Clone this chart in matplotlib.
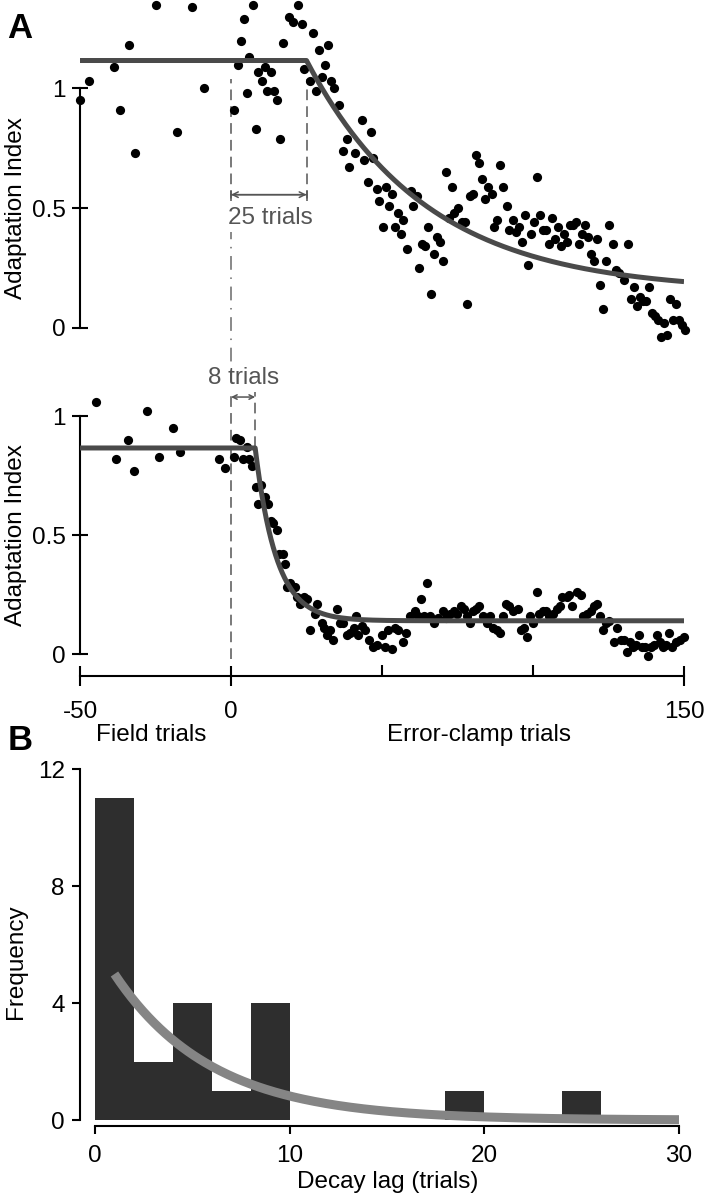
import numpy as np
import matplotlib
matplotlib.use('Agg')
import matplotlib.pyplot as plt
from matplotlib.ticker import FixedLocator

# ---- data ----
# panel A, upper subject: trial number and adaptation index
top_trial = [-50, -47, -38.7, -36.8, -33.8, -31.8, -24.8, -17.9, -12.9, -8.9,
             1, 2.3, 3.3, 4.3, 5.3, 6, 7.3, 8.3, 8.9, 10.3, 11.3, 11.9, 13.2, 14.2, 15.2,
             16.2, 17.2, 19.2, 20.5, 22.2, 23.5, 24.2, 26.2, 27.2, 28.1, 29.1, 30.1, 31.1,
             32.1, 33.1, 34.1, 35.8, 37.1, 38.4, 39.1, 41.1, 43.4, 44.0, 45.4, 46.4, 47.0,
             48.3, 49.0, 50.3, 51.3, 52.3, 53.3, 54.3, 55.3, 56.3, 57.0, 58.3, 59.6, 60.3,
             61.6, 62.3, 63.2, 64.2, 65.2, 66.2, 67.2, 68.2, 69.2, 70.2, 71.2, 72.2, 73.2,
             73.8, 75.2, 76.5, 77.5, 78.1, 79.1, 80.1, 81.1, 82.1, 83.1, 84.1, 85.1, 86.4,
             87.1, 88.1, 89.1, 90.1, 91.4, 92.1, 93.4, 94.4, 95.4, 96.4, 97.4, 98.3, 99.3,
             100.3, 101.3, 102.3, 103.3, 104.3, 105.3, 106.3, 107.3, 108.3, 109.3, 110.3,
             111.3, 112.3, 113.2, 114.2, 115.2, 116.2, 117.2, 118.2, 119.2, 120.2, 121.2,
             122.2, 123.2, 124.2, 125.2, 126.5, 127.5, 128.5, 130.1, 131.5, 132.5, 133.5,
             134.4, 135.4, 136.4, 137.4, 138.4, 139.4, 140.4, 141.4, 142.4, 143.4, 144.4,
             145.4, 146.4, 147.4, 148.3, 149.3, 150.3]
top_index = [0.95, 1.03, 1.09, 0.91, 1.18, 0.73, 1.35, 0.82, 1.34, 1.00,
             0.91, 1.10, 1.20, 1.29, 0.98, 1.13, 1.35, 0.83, 1.07, 1.03, 1.09, 0.99, 1.07, 0.99, 0.95,
             0.79, 1.19, 1.30, 1.28, 1.35, 1.27, 1.08, 1.03, 1.23, 0.99, 1.16, 1.05, 1.10,
             1.18, 1.03, 1.00, 0.93, 0.74, 0.79, 0.67, 0.73, 0.87, 0.70, 0.61, 0.82, 0.71,
             0.58, 0.53, 0.42, 0.59, 0.51, 0.56, 0.42, 0.48, 0.39, 0.45, 0.33, 0.57, 0.51,
             0.55, 0.25, 0.35, 0.34, 0.42, 0.14, 0.31, 0.38, 0.36, 0.28, 0.65, 0.46, 0.59,
             0.48, 0.50, 0.44, 0.44, 0.10, 0.55, 0.56, 0.72, 0.69, 0.62, 0.54, 0.59, 0.56,
             0.42, 0.45, 0.68, 0.59, 0.51, 0.41, 0.45, 0.40, 0.42, 0.36, 0.47, 0.26, 0.39,
             0.44, 0.63, 0.47, 0.41, 0.41, 0.35, 0.46, 0.37, 0.42, 0.34, 0.39,
             0.36, 0.43, 0.43, 0.44, 0.35, 0.39, 0.43, 0.38, 0.31, 0.28, 0.37,
             0.18, 0.08, 0.28, 0.43, 0.35, 0.24, 0.23, 0.20, 0.35, 0.12, 0.17,
             0.09, 0.13, 0.11, 0.11, 0.17, 0.06, 0.05, 0.03, -0.04, 0.02, -0.03,
             0.12, 0.03, 0.10, 0.03, 0.01, -0.01]

# panel A, lower subject
bot_trial = [-44.7, -38.1, -34.1, -32.1, -27.8, -24.0, -19.2, -16.9, -4.0, -1.9,
             1.1, 1.8, 3.0, 4.1, 5.2, 6.1, 6.8, 8.2, 8.8, 9.8, 11.2, 12.1, 13.1, 14.0,
             15.1, 16.0, 17.1, 17.9, 18.7, 19.5, 21.2, 22.0, 22.9, 24.2, 25.1, 26.2, 27.8,
             28.6, 30.1, 30.8, 31.9, 32.8, 33.9, 35.0, 36.1, 37.2, 38.3, 39.4, 40.8, 41.5,
             42.1, 43.3, 44.3, 45.7, 47.1, 48.4, 50.0, 51.0, 52.0, 53.3, 54.3, 55.3, 57.0,
             58.0, 59.3, 60.9, 62.0, 62.9, 64.0, 65.0, 66.0, 67.3, 68.6, 70.2, 71.2, 72.5,
             73.8, 74.8, 76.2, 77.2, 78.1, 79.1, 80.1, 81.1, 82.1, 83.4, 84.8, 85.8, 86.8,
             88.1, 89.1, 90.1, 91.1, 92.1, 93.4, 95.0, 96.0, 97.0, 98.0, 99.0, 100.0,
             101.3, 102.0, 103.3, 104.3, 105.3, 106.6, 108.0, 109.0, 109.6, 111.3, 111.9,
             112.9, 114.6, 115.9, 116.6, 117.9, 119.2, 120.2, 121.2, 122.2, 123.2, 124.2,
             125.2, 126.8, 127.8, 129.1, 130.1, 131.1, 132.1, 133.1, 134.1, 135.1, 136.1,
             137.1, 138.1, 139.1, 140.1, 141.1, 142.1, 143.1, 144.1, 145.0, 146.0, 147.4,
             148.7, 150.0]
bot_index = [1.06, 0.82, 0.90, 0.77, 1.02, 0.83, 0.95, 0.85, 0.82, 0.78,
             0.83, 0.91, 0.90, 0.82, 0.87, 0.82, 0.79, 0.70, 0.63, 0.71, 0.66, 0.63, 0.56, 0.55,
             0.52, 0.42, 0.42, 0.38, 0.28, 0.30, 0.28, 0.24, 0.21, 0.24, 0.23, 0.10, 0.17,
             0.21, 0.13, 0.11, 0.08, 0.10, 0.06, 0.19, 0.13, 0.13, 0.08, 0.09, 0.11, 0.16,
             0.08, 0.12, 0.10, 0.06, 0.03, 0.04, 0.08, 0.03, 0.10, 0.02, 0.11, 0.10, 0.05,
             0.09, 0.16, 0.18, 0.16, 0.23, 0.16, 0.30, 0.16, 0.13, 0.15, 0.18, 0.15, 0.17,
             0.18, 0.17, 0.20, 0.19, 0.16, 0.13, 0.18, 0.19, 0.20, 0.16, 0.13, 0.16, 0.11,
             0.10, 0.09, 0.16, 0.21, 0.20, 0.18, 0.19, 0.10, 0.11, 0.07, 0.16, 0.13,
             0.26, 0.17, 0.18, 0.18, 0.16, 0.17, 0.19, 0.20, 0.24, 0.24, 0.25,
             0.20, 0.26, 0.25, 0.16, 0.17, 0.18, 0.20, 0.21, 0.16, 0.10, 0.13,
             0.14, 0.05, 0.11, 0.06, 0.06, 0.01, 0.05, 0.03, 0.04, 0.08, 0.03,
             0.03, -0.01, 0.03, 0.04, 0.08, 0.05, 0.03, 0.04, 0.09, 0.03, 0.05,
             0.06, 0.07]

# fitted plateau + exponential decay (plateau, lag, asymptote, time constant)
top_fit = dict(plateau=1.117, lag=25, floor=0.15, tau=40)
bot_fit = dict(plateau=0.866, lag=8, floor=0.14, tau=7)

# panel B histogram of decay lags (bin left edge, count), bin width 2
lag_bin_left = [0, 2, 4, 6, 8, 18, 24]
lag_counts = [11, 2, 4, 1, 4, 1, 1]
bin_width = 2
# exponential fit to histogram
hist_fit_amp = 6.1
hist_fit_tau = 5.0

plt.rcParams['font.family'] = ['Liberation Sans', 'DejaVu Sans']
plt.rcParams['font.size'] = 17.5
plt.rcParams['axes.linewidth'] = 1.5

dark = '#4a4a4a'
annot = '#555555'
dash = (0, (7, 4))

def fit_curve(t, p):
    return np.where(t < p['lag'], p['plateau'],
                    p['floor'] + (p['plateau'] - p['floor']) * np.exp(-(t - p['lag']) / p['tau']))

fig = plt.figure(figsize=(7.06, 12), dpi=100)
W, H = 706., 1200.

def box(l, t, r, b):
    return [l / W, 1 - b / H, (r - l) / W, (b - t) / H]

# ---------- A, top ----------
ax1 = fig.add_axes(box(80, 0, 684, 342))
ax1.scatter(top_trial, top_index, s=44, c='k', linewidths=0, clip_on=False, zorder=3)
tt = np.linspace(-50, 150, 801)
ax1.plot(tt, fit_curve(tt, top_fit), color=dark, lw=3.6, zorder=4, solid_capstyle='butt')
ax1.set_xlim(-50, 150)
ax1.set_ylim(-0.06, 1.37)
for s in ['top', 'right', 'bottom']:
    ax1.spines[s].set_visible(False)
ax1.spines['left'].set_bounds(0, 1)
ax1.set_xticks([])
ax1.set_yticks([0, 0.5, 1])
ax1.set_yticklabels(['0', '0.5', '1'])
ax1.tick_params(axis='y', direction='inout', length=12, width=1.5, pad=4)
ax1.set_ylabel('Adaptation Index')
ax1.yaxis.set_label_coords(-0.088, (0.5 + 0.06) / 1.43)

ax1.vlines(0, 0.53, 1.04, colors=annot, lw=1.1, linestyles=dash, zorder=2)
ax1.vlines(25, 0.53, 1.04, colors=annot, lw=1.1, linestyles=dash, zorder=2)
# connector between the two subjects
ax1.vlines(0, -0.27, 0.40, colors='#6a6a6a', lw=1.1, linestyles=(0, (9, 5, 1, 5)),
           clip_on=False, zorder=2)
ax1.annotate('', xy=(0, 0.556), xytext=(25, 0.556),
             arrowprops=dict(arrowstyle='<->', color=annot, lw=1.1, shrinkA=0, shrinkB=0,
                             mutation_scale=10))
ax1.annotate('', xy=(0, 0.556), xytext=(25, 0.556),
             arrowprops=dict(arrowstyle='|-|,widthA=0.25,widthB=0.25', color=annot, lw=1.1,
                             shrinkA=0, shrinkB=0, mutation_scale=10))
ax1.text(13.2, 0.46, '25 trials', color=annot, ha='center', va='center')

# ---------- A, bottom ----------
ax2 = fig.add_axes(box(80, 368, 684, 676))
ax2.scatter(bot_trial, bot_index, s=44, c='k', linewidths=0, clip_on=False, zorder=3)
ax2.plot(tt, fit_curve(tt, bot_fit), color=dark, lw=3.6, zorder=4, solid_capstyle='round')
ax2.set_xlim(-50, 150)
ax2.set_ylim(-0.092, 1.202)
for s in ['top', 'right']:
    ax2.spines[s].set_visible(False)
ax2.spines['left'].set_bounds(0, 1)
ax2.spines['bottom'].set_bounds(-50, 150)
ax2.set_yticks([0, 0.5, 1])
ax2.set_yticklabels(['0', '0.5', '1'])
ax2.tick_params(axis='y', direction='inout', length=12, width=1.5, pad=4)
ax2.set_xticks([-50, 0, 150])
ax2.set_xticklabels(['-50', '0', '150'])
ax2.xaxis.set_minor_locator(FixedLocator([50, 100]))
ax2.tick_params(axis='x', which='major', direction='inout', length=14, width=1.5, pad=11)
ax2.tick_params(axis='x', which='minor', direction='in', length=8, width=1.5)
ax2.set_ylabel('Adaptation Index')
ax2.yaxis.set_label_coords(-0.088, (0.5 + 0.092) / 1.294)

ax2.vlines(0, -0.02, 1.10, colors=annot, lw=1.1, linestyles=dash, zorder=2, clip_on=False)
ax2.vlines(8, 0.87, 1.10, colors=annot, lw=1.1, linestyles=dash, zorder=2, clip_on=False)
ax2.annotate('', xy=(0, 1.08), xytext=(8, 1.08),
             arrowprops=dict(arrowstyle='<->', color=annot, lw=1.1, shrinkA=0, shrinkB=0,
                             mutation_scale=8))
ax2.text(4, 1.16, '8 trials', color=annot, ha='center', va='center')
ax2.text(-26.5, -0.34, 'Field trials', ha='center', va='center')
ax2.text(82, -0.34, 'Error-clamp trials', ha='center', va='center')

# ---------- B ----------
ax3 = fig.add_axes(box(80, 769, 679, 1126))
ax3.bar(lag_bin_left, lag_counts, width=bin_width, align='edge', color='#2e2e2e',
        linewidth=0, zorder=2)
xb = np.linspace(1, 30, 300)
ax3.plot(xb, hist_fit_amp * np.exp(-xb / hist_fit_tau), color='#858585', lw=6.5,
         solid_capstyle='butt', zorder=3)
ax3.set_xlim(-0.77, 30)
ax3.set_ylim(-0.2, 12)
for s in ['top', 'right']:
    ax3.spines[s].set_visible(False)
ax3.spines['left'].set_bounds(0, 12)
ax3.spines['bottom'].set_bounds(0, 30)
ax3.set_yticks([0, 4, 8, 12])
ax3.set_xticks([0, 10, 20, 30])
ax3.tick_params(direction='out', length=6, width=1.5)
ax3.tick_params(axis='y', pad=5)
ax3.tick_params(axis='x', pad=8)
ax3.set_ylabel('Frequency')
ax3.yaxis.set_label_coords(-0.088, 0.46)
ax3.set_xlabel('Decay lag (trials)')
ax3.xaxis.set_label_coords(0.513, -0.125)

fig.text(20 / W, 1 - 28 / H, 'A', fontsize=25, fontweight='bold', ha='center', va='center')
fig.text(20 / W, 1 - 740 / H, 'B', fontsize=25, fontweight='bold', ha='center', va='center')

fig.savefig('out.png', dpi=100)
